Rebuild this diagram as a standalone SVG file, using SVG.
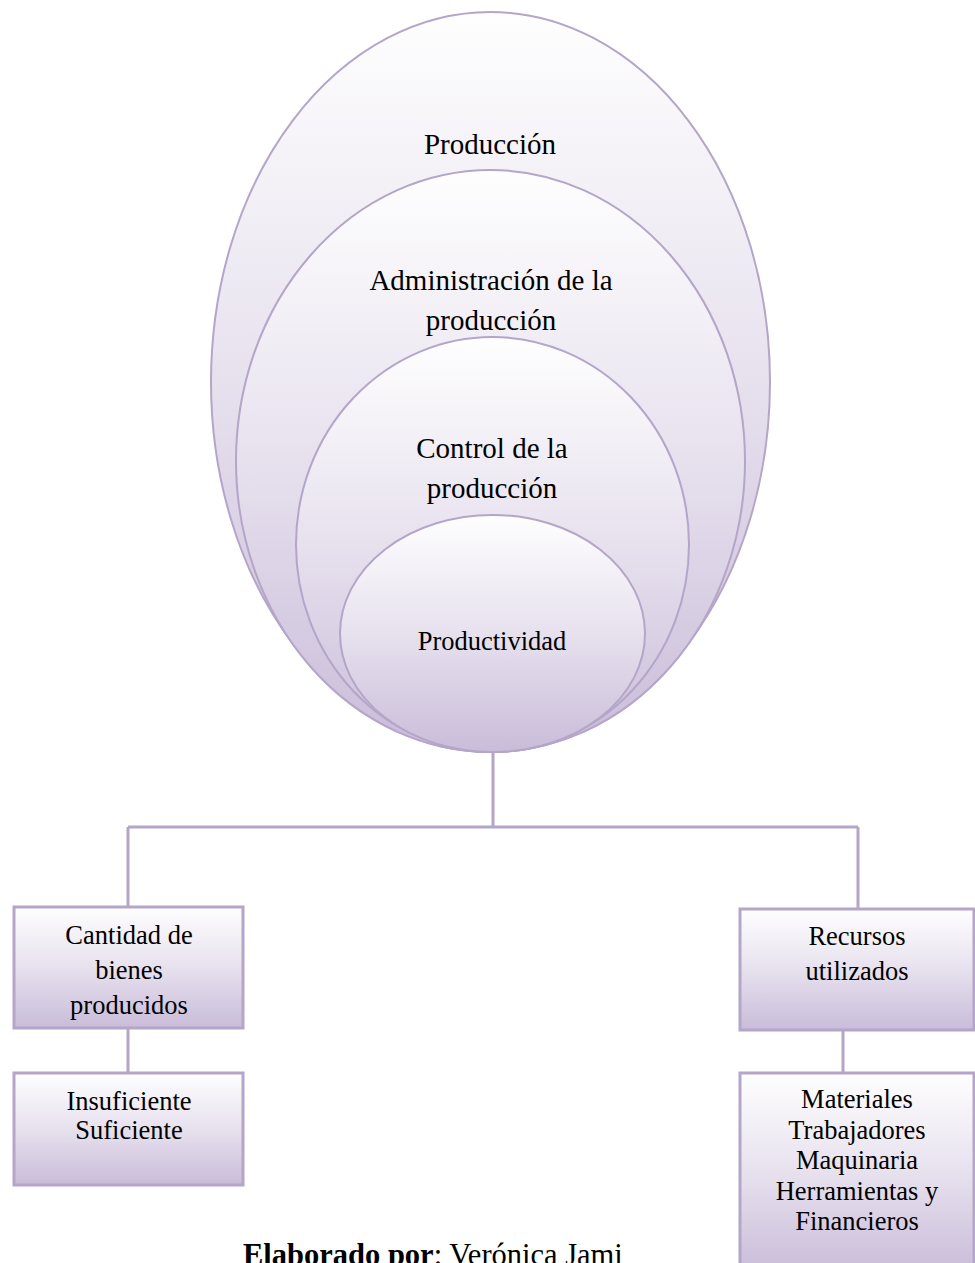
<svg xmlns="http://www.w3.org/2000/svg" width="975" height="1263" viewBox="0 0 975 1263">
  <style>
    .shape { stroke: #b4a5c9; stroke-width: 2; }
    .box { stroke: #b4a5c9; stroke-width: 3; }
    .link { stroke: #b4a5c9; stroke-width: 3; fill: none; }
    .lbl { font-family: "Liberation Serif", "Times New Roman", serif; fill: #000; text-anchor: middle; }
    .big { font-size: 29px; }
    .mid { font-size: 26.5px; }
    .note { font-family: "Liberation Serif", "Times New Roman", serif; font-size: 30.5px; fill: #000; }
  </style>
  <defs>
    <linearGradient id="lav" x1="0" y1="0" x2="0" y2="1">
      <stop offset="0" stop-color="#fefefe"/>
      <stop offset="0.5" stop-color="#e7e1ee"/>
      <stop offset="1" stop-color="#c9bcd9"/>
    </linearGradient>
  </defs>

  <!-- connectors -->
  <g id="connectors">
    <path class="link" d="M493 752 V827"/>
    <path class="link" d="M128 827 H858"/>
    <path class="link" d="M128 827 V907"/>
    <path class="link" d="M858 827 V909"/>
    <path class="link" d="M128 1028 V1073"/>
    <path class="link" d="M843 1030 V1073"/>
  </g>

  <!-- nested ellipses -->
  <g id="produccion">
    <ellipse class="shape" cx="490.5" cy="382" rx="279.5" ry="370" fill="url(#lav)"/>
    <text class="lbl big" x="490" y="154">Producción</text>
  </g>
  <g id="administracion">
    <ellipse class="shape" cx="490.5" cy="461" rx="254.5" ry="291" fill="url(#lav)"/>
    <text class="lbl big"><tspan x="491" y="290">Administración de la</tspan><tspan x="491" y="330">producción</tspan></text>
  </g>
  <g id="control">
    <ellipse class="shape" cx="492.5" cy="544.5" rx="196.5" ry="207.5" fill="url(#lav)"/>
    <text class="lbl big"><tspan x="492" y="458">Control de la</tspan><tspan x="492" y="498">producción</tspan></text>
  </g>
  <g id="productividad">
    <ellipse class="shape" cx="492.5" cy="633.5" rx="152.5" ry="118.5" fill="url(#lav)"/>
    <text class="lbl mid" x="492" y="650">Productividad</text>
  </g>

  <!-- left branch -->
  <g id="cantidad">
    <rect class="box" x="14" y="907" width="229" height="121" fill="url(#lav)"/>
    <text class="lbl mid"><tspan x="129" y="944">Cantidad de</tspan><tspan x="129" y="979">bienes</tspan><tspan x="129" y="1014">producidos</tspan></text>
  </g>
  <g id="nivel">
    <rect class="box" x="14" y="1073" width="229" height="112" fill="url(#lav)"/>
    <text class="lbl mid"><tspan x="129" y="1110">Insuficiente</tspan><tspan x="129" y="1139">Suficiente</tspan></text>
  </g>

  <!-- right branch -->
  <g id="recursos">
    <rect class="box" x="740" y="909" width="234" height="121" fill="url(#lav)"/>
    <text class="lbl mid"><tspan x="857" y="945">Recursos</tspan><tspan x="857" y="980">utilizados</tspan></text>
  </g>
  <g id="tipos">
    <rect class="box" x="740" y="1073" width="234" height="200" fill="url(#lav)"/>
    <text class="lbl mid"><tspan x="857" y="1108">Materiales</tspan><tspan x="857" y="1138.5">Trabajadores</tspan><tspan x="857" y="1169">Maquinaria</tspan><tspan x="857" y="1199.5">Herramientas y</tspan><tspan x="857" y="1230">Financieros</tspan></text>
  </g>

  <!-- author line -->
  <text class="note" x="243" y="1265"><tspan font-weight="bold">Elaborado por</tspan>: Verónica Jami</text>
</svg>
